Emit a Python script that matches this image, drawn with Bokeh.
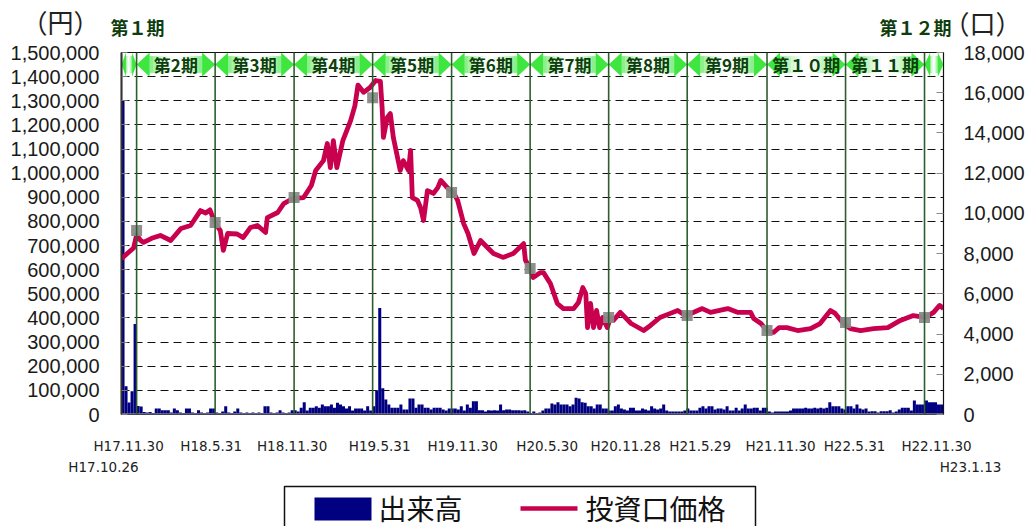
import pandas as pd
from bokeh.plotting import figure
from bokeh.models import (Range1d, LinearAxis, FixedTicker, NumeralTickFormatter,
                          Span, ColumnDataSource)
from bokeh.layouts import column
from bokeh.embed import file_html
from bokeh.resources import INLINE
from bokeh.core.properties import value

# ---------------- data ----------------
start_date = "2005-10-26"
end_date = "2011-01-13"

price_dates = [
    "2005-10-26", "2005-11-09", "2005-11-23", "2005-11-30", "2005-12-09", "2005-12-16",
    "2006-01-04", "2006-01-24", "2006-02-17", "2006-03-13", "2006-04-04", "2006-04-27",
    "2006-05-09", "2006-05-19", "2006-05-29", "2006-06-12", "2006-06-19", "2006-06-29",
    "2006-07-21", "2006-08-04", "2006-08-21", "2006-09-06", "2006-09-25", "2006-09-29",
    "2006-10-23", "2006-11-06", "2006-11-27", "2006-12-22", "2007-01-09", "2007-01-19",
    "2007-02-06", "2007-02-15", "2007-02-22", "2007-03-01", "2007-03-09", "2007-03-23",
    "2007-04-10", "2007-04-20", "2007-04-27", "2007-05-10", "2007-05-25", "2007-06-07",
    "2007-06-18", "2007-06-22", "2007-06-25", "2007-07-04", "2007-07-11", "2007-07-18",
    "2007-08-03", "2007-08-10", "2007-08-22", "2007-08-27", "2007-08-31", "2007-09-12",
    "2007-09-19", "2007-09-26", "2007-10-05", "2007-10-19", "2007-10-29", "2007-11-05",
    "2007-11-20", "2007-12-04", "2007-12-14", "2007-12-28", "2008-01-07", "2008-01-21",
    "2008-02-05", "2008-02-21", "2008-03-06", "2008-03-28", "2008-04-21", "2008-05-15",
    "2008-05-19", "2008-05-30", "2008-06-06", "2008-06-23", "2008-06-30", "2008-07-16",
    "2008-08-01", "2008-08-15", "2008-09-08", "2008-09-19", "2008-09-29", "2008-10-06",
    "2008-10-10", "2008-10-17", "2008-10-24", "2008-10-31", "2008-11-07", "2008-11-14",
    "2008-11-25", "2008-12-02", "2008-12-09", "2008-12-25", "2009-01-19", "2009-02-17",
    "2009-03-05", "2009-03-27", "2009-04-20", "2009-05-07", "2009-05-25", "2009-06-12",
    "2009-07-03", "2009-07-22", "2009-08-31", "2009-09-24", "2009-10-23", "2009-10-30",
    "2009-11-16", "2009-11-30", "2009-12-15", "2009-12-28", "2010-01-15", "2010-02-09",
    "2010-03-11", "2010-04-02", "2010-04-26", "2010-05-07", "2010-05-24", "2010-06-11",
    "2010-07-05", "2010-08-04", "2010-09-06", "2010-10-05", "2010-11-04", "2010-12-02",
    "2010-12-21", "2011-01-04", "2011-01-13",
]
price_yen = [
    646000, 668000, 690000, 745000, 722000, 713000,
    730000, 742000, 721000, 771000, 783000, 845000,
    835000, 848000, 800000, 762000, 680000, 750000,
    748000, 733000, 775000, 783000, 754000, 816000,
    837000, 874000, 895000, 899000, 949000, 1011000,
    1052000, 1123000, 1023000, 1135000, 1023000, 1135000,
    1218000, 1280000, 1365000, 1335000, 1355000, 1384000,
    1380000, 1272000, 1148000, 1231000, 1247000, 1148000,
    1011000, 1052000, 1011000, 1094000, 899000, 887000,
    858000, 804000, 928000, 916000, 940000, 970000,
    940000, 920000, 887000, 791000, 750000, 667000,
    721000, 692000, 667000, 651000, 667000, 708000,
    640000, 605000, 568000, 588000, 588000, 543000,
    460000, 439000, 439000, 464000, 526000, 501000,
    360000, 460000, 360000, 431000, 360000, 402000,
    360000, 402000, 390000, 423000, 377000, 348000,
    369000, 402000, 419000, 431000, 410000, 423000,
    439000, 423000, 439000, 423000, 423000, 398000,
    377000, 348000, 340000, 360000, 360000, 348000,
    356000, 377000, 431000, 419000, 381000, 356000,
    348000, 356000, 360000, 390000, 410000, 402000,
    423000, 452000, 439000,
]

# weekly trading volume (口), weeks starting 2005-10-26
volume_units = [
    15600, 1400, 600, 1150, 4500, 420, 400, 120, 100, 120,
    80, 300, 300, 215, 215, 215, 100, 300, 215, 100,
    80, 300, 300, 100, 80, 215, 100, 80, 100, 300,
    300, 100, 80, 150, 415, 100, 80, 150, 300, 100,
    80, 100, 80, 100, 80, 100, 80, 415, 415, 100,
    80, 100, 215, 100, 80, 100, 215, 215, 150, 330,
    615, 200, 330, 330, 415, 330, 500, 415, 415, 500,
    330, 580, 500, 415, 300, 415, 200, 300, 300, 300,
    200, 415, 200, 415, 1200, 5300, 1300, 750, 500, 330,
    330, 330, 500, 250, 250, 800, 800, 330, 500, 500,
    330, 330, 250, 330, 330, 330, 250, 200, 300, 300,
    300, 250, 415, 200, 500, 330, 665, 665, 215, 215,
    150, 215, 200, 215, 200, 500, 215, 250, 250, 215,
    215, 215, 200, 215, 150, 80, 150, 80, 100, 200,
    300, 300, 550, 500, 615, 500, 500, 500, 415, 500,
    830, 800, 615, 580, 415, 415, 300, 500, 500, 300,
    300, 200, 200, 415, 500, 300, 250, 200, 330, 330,
    200, 200, 300, 250, 200, 415, 300, 250, 300, 500,
    200, 150, 150, 150, 150, 150, 200, 300, 200, 200,
    200, 330, 415, 300, 415, 415, 250, 300, 300, 250,
    415, 200, 200, 330, 200, 300, 500, 300, 300, 330,
    330, 200, 330, 330, 150, 100, 150, 150, 150, 150,
    150, 200, 300, 300, 300, 300, 330, 300, 300, 330,
    300, 330, 300, 330, 615, 415, 415, 415, 300, 250,
    415, 415, 300, 500, 300, 250, 300, 150, 165, 165,
    100, 165, 165, 165, 215, 100, 150, 250, 330, 330,
    330, 200, 700, 500, 500, 500, 700, 615, 615, 615,
    500, 500,
]

period_ends = ["2005-11-30", "2006-05-31", "2006-11-30", "2007-05-31", "2007-11-30",
               "2008-05-30", "2008-11-28", "2009-05-29", "2009-11-30", "2010-05-31",
               "2010-11-30"]
period_end_prices = [762000, 796000, 899000, 1313000, 920000, 605000, 402000,
                     410000, 348000, 381000, 402000]
period_names = ["第１期", "第2期", "第3期", "第4期", "第5期", "第6期", "第7期",
                "第8期", "第9期", "第１０期", "第１１期", "第１２期"]

date_label_text = ["H17.10.26", "H17.11.30", "H18.5.31", "H18.11.30", "H19.5.31",
                   "H19.11.30", "H20.5.30", "H20.11.28", "H21.5.29", "H21.11.30",
                   "H22.5.31", "H22.11.30", "H23.1.13"]
date_label_dates = [start_date] + period_ends + [end_date]

left_ticks = list(range(0, 1500001, 100000))
right_ticks = list(range(0, 18001, 2000))

legend_names = ["出来高", "投資口価格"]
unit_left, unit_right = "（円）", "（口）"

# ---------------- layout constants ----------------
def ms(d):
    return pd.Timestamp(d).value / 1e6

W = 1029
FRAME_L, FRAME_R = 121, 943          # page px of plot frame
FRAME_W = FRAME_R - FRAME_L
FRAME_H = 362
HEAD_H = 42                          # header strip height
TOP_PAD, BOT_PAD = 10, 10            # main figure padding above/below frame
FOOT_H = 58
LEG_H = 44

X0, X1 = ms(start_date), ms(end_date)
DAY = 86400000.0
ms_per_px = (X1 - X0) / FRAME_W

NUM_FONT = "Liberation Sans"
DATE_FONT = "DejaVu Sans"
CJK_FONT = "Noto Sans CJK JP"
PRICE_COLOR = "#c8004e"
VOL_COLOR = "#000080"
PERIOD_LINE = "#2e5e2e"
PERIOD_TEXT = "#0e3d0e"


def strip(h):
    f = figure(width=W, height=h, x_range=Range1d(0, W), y_range=Range1d(h, 0),
               output_backend="svg", toolbar_location=None, x_axis_location=None,
               y_axis_location=None, min_border=0, outline_line_color=None,
               background_fill_color="white", border_fill_color="white",
               frame_align=False)
    f.grid.visible = False
    return f


# ---------------- header strip ----------------
hd = strip(HEAD_H)
hd.text(x=[60, 982], y=[21, 22], text=[unit_left, unit_right], text_font=value(CJK_FONT),
        text_font_size="26px", text_color="#222222", text_align="center",
        text_baseline="middle")
hd.text(x=[137, 915], y=[26, 26], text=[period_names[0], period_names[-1]],
        text_font=value(CJK_FONT), text_font_style="bold", text_font_size="18px",
        text_color=PERIOD_TEXT, text_align="center", text_baseline="middle")

# ---------------- main chart ----------------
p = figure(width=W, height=FRAME_H + TOP_PAD + BOT_PAD, x_range=Range1d(X0, X1),
           y_range=Range1d(0, 1500000), output_backend="svg", toolbar_location=None,
           x_axis_location=None, min_border_left=FRAME_L, min_border_right=W - FRAME_R,
           min_border_top=TOP_PAD, min_border_bottom=BOT_PAD,
           background_fill_color="white", border_fill_color="white", frame_align=False)
p.outline_line_color = "#111111"
p.outline_line_width = 1.2
p.extra_y_ranges = {"vol": Range1d(0, 18000)}

left = p.yaxis[0]
left.ticker = FixedTicker(ticks=left_ticks)
left.formatter = NumeralTickFormatter(format="0,0")
left.major_label_text_font = NUM_FONT
left.major_label_text_font_size = "20px"
left.major_label_text_color = "#1a1a1a"
left.major_label_standoff = 22
left.major_tick_in = 6
left.major_tick_out = 0
left.major_tick_line_color = "#777777"
left.minor_tick_line_color = None
left.axis_line_color = "#333333"
left.axis_line_width = 2

right = LinearAxis(y_range_name="vol", ticker=FixedTicker(ticks=right_ticks),
                   formatter=NumeralTickFormatter(format="0,0"))
right.major_label_text_font = NUM_FONT
right.major_label_text_font_size = "20px"
right.major_label_text_color = "#1a1a1a"
right.major_label_standoff = 20
right.major_tick_in = 7
right.major_tick_out = 0
right.major_tick_line_color = "#888888"
right.minor_tick_line_color = None
right.axis_line_color = "#111111"
p.add_layout(right, "right")

p.xgrid.visible = False
p.ygrid.ticker = FixedTicker(ticks=left_ticks)
p.ygrid.grid_line_color = "#111111"
p.ygrid.grid_line_dash = "8 5"
p.ygrid.grid_line_width = 1.1

# volume bars
vol_dates = pd.date_range(start_date, periods=len(volume_units), freq="7D")
vol_src = ColumnDataSource(dict(x=[ms(d) + 3.5 * DAY for d in vol_dates], top=volume_units))
p.vbar(x="x", top="top", width=7 * DAY, source=vol_src, y_range_name="vol",
       fill_color=VOL_COLOR, line_color=None)

# bottom axis line
p.add_layout(Span(location=0, dimension="width", line_color="#808080", line_width=2.5))

# period boundaries
for d in period_ends:
    p.add_layout(Span(location=ms(d), dimension="height", line_color=PERIOD_LINE,
                      line_width=1.6))

# price line + period-end markers
price_src = ColumnDataSource(dict(x=[ms(d) for d in price_dates], y=price_yen))
p.line(x="x", y="y", source=price_src, line_color=PRICE_COLOR, line_width=4.8,
       line_join="round")
mk_src = ColumnDataSource(dict(x=[ms(d) for d in period_ends], y=period_end_prices))
p.scatter(x="x", y="y", source=mk_src, marker="square", size=11,
          fill_color="#8a8a8a", line_color=None, fill_alpha=0.95)

# period header band (double arrows with gradient)
bounds = [X0] + [ms(d) for d in period_ends] + [X1]
y_lo, y_hi = 1400000, 1500000
y_mid = (y_lo + y_hi) / 2
sh_lo, sh_hi = 1416000, 1484000
head_xs, head_ys = [], []
strip_l, strip_r, strip_c = [], [], []
N = 14


def mix(t):
    g = (125, 238, 125)
    return "#%02x%02x%02x" % tuple(int(255 + (c - 255) * t) for c in g)


for a, b in zip(bounds[:-1], bounds[1:]):
    h = min(13 * ms_per_px, (b - a) * 0.3)
    head_xs += [[a, a + h, a + h], [b, b - h, b - h]]
    head_ys += [[y_mid, y_hi, y_lo], [y_mid, y_hi, y_lo]]
    s0, s1 = a + h, b - h
    for k in range(N):
        strip_l.append(s0 + (s1 - s0) * k / N)
        strip_r.append(s0 + (s1 - s0) * (k + 1) / N)
        t = abs((k + 0.5) / N - 0.5) * 2
        strip_c.append(mix(t ** 1.6))
p.quad(left=strip_l, right=strip_r, bottom=sh_lo, top=sh_hi, fill_color=strip_c,
       line_color=strip_c, line_width=0.5)
p.patches(xs=head_xs, ys=head_ys, fill_color="#3fe63f", line_color=None)

mid_x = [(a + b) / 2 for a, b in zip(bounds[1:-2], bounds[2:-1])]
band_src = ColumnDataSource(dict(x=mid_x, y=[y_mid] * len(mid_x), t=period_names[1:-1]))
p.text(x="x", y="y", text="t", source=band_src, text_font=value(CJK_FONT),
       text_font_style="bold", text_font_size="17px", text_color=PERIOD_TEXT,
       text_align="center", text_baseline="middle")

# ---------------- footer strip: date labels ----------------
ft = strip(FOOT_H)
label_dx = [-18, -8, -4, -2, 7, 11, 17, 17, 13, 13.5, 9, 12, 27]
fx, fy = [], []
for i, d in enumerate(date_label_dates):
    fx.append(FRAME_L + (ms(d) - X0) / ms_per_px + label_dx[i])
    fy.append(42 if i in (0, len(date_label_dates) - 1) else 21)
ft.text(x=fx, y=fy, text=date_label_text, text_font=value(DATE_FONT),
        text_font_size="13.5px", text_color="#222222", text_align="center",
        text_baseline="middle")

# ---------------- legend strip ----------------
lg = strip(LEG_H)
lg.quad(left=[284], right=[755], top=[4], bottom=[90], fill_color=None,
        line_color="#111111", line_width=1.5)
lg.quad(left=[314], right=[371], top=[15], bottom=[38], fill_color=VOL_COLOR,
        line_color=None)
lg.line(x=[520, 577], y=[26, 26], line_color=PRICE_COLOR, line_width=4.5)
lg.text(x=[378, 585], y=[25, 25], text=legend_names, text_font=value(CJK_FONT),
        text_font_size="28px", text_color="#111111", text_align="left",
        text_baseline="middle")

layout = column(hd, p, ft, lg, spacing=0)
open("out.html", "w").write(file_html(layout, INLINE))
